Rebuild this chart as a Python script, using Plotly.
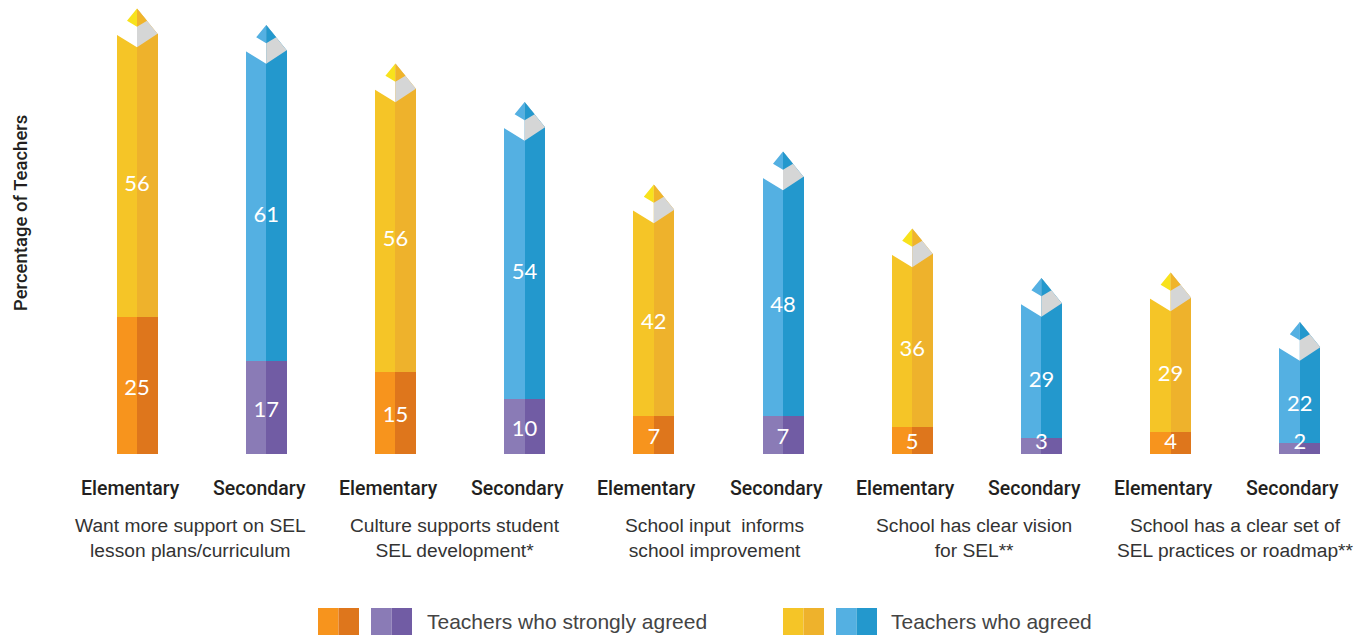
import plotly.graph_objects as go

# ---------------- data ----------------
groups = [
    "Want more support on SEL<br>lesson plans/curriculum",
    "Culture supports student<br>SEL development*",
    "School input  informs<br>school improvement",
    "School has clear vision<br>for SEL**",
    "School has a clear set of<br>SEL practices or roadmap**",
]
levels = ["Elementary", "Secondary"] * 5
strongly_agreed = [25, 17, 15, 10, 7, 7, 5, 3, 4, 2]
agreed = [56, 61, 56, 54, 42, 48, 36, 29, 29, 22]
legend_labels = ["Teachers who strongly agreed", "Teachers who agreed"]
y_title = "Percentage of Teachers"

# ---------------- style ----------------
W, H = 1356, 635
XU = 129.2          # px per x unit
YU = 5.5            # px per y unit
BASE_PX = 454       # baseline pixel row
X0_PX = 137         # first bar center pixel
GROUP_SHIFT = [-11, -5, -4, -3, 0]   # px nudges of the group captions

COL = {
    "Elementary": dict(sl="#f7941d", sr="#de761c", al="#f5c527", ar="#eeb22c",
                       tl="#f8e21c", tr="#f0b42a"),
    "Secondary": dict(sl="#8a7bb6", sr="#715ca4", al="#54b0e2", ar="#2398cd",
                      tl="#54b0e2", tr="#2398cd"),
}
GRAY = "#d5d6d6"

half_w = 20.5 / XU
pad = 1.5 / XU
tip_sx = 10.0 / XU
shoulder = 25.3 / YU
vdepth = 38.7 / YU
tip_side = 12.3 / YU
tip_bot = 18.3 / YU
label_dy = -4.0 / YU
label_floor = 15.0 / YU   # lowest label centre (before label_dy)

pos = list(range(len(levels)))
totals = [s + a for s, a in zip(strongly_agreed, agreed)]

def px_x(p):
    return p / W

def px_y(p):
    return 1 - p / H

fig = go.Figure()

sl = [COL[l]["sl"] for l in levels]
sr = [COL[l]["sr"] for l in levels]
al = [COL[l]["al"] for l in levels]
ar = [COL[l]["ar"] for l in levels]

for ys, base, cl, cr in [(strongly_agreed, [0] * len(pos), sl, sr),
                         (agreed, strongly_agreed, al, ar)]:
    fig.add_trace(go.Bar(x=pos, y=ys, base=base, width=half_w, offset=-half_w,
                         marker=dict(color=cl, line=dict(width=0)),
                         showlegend=False, hoverinfo="skip"))
    fig.add_trace(go.Bar(x=pos, y=ys, base=base, width=half_w, offset=0,
                         marker=dict(color=cr, line=dict(width=0)),
                         showlegend=False, hoverinfo="skip"))

# pencil tips
white_x, white_y, gray_x, gray_y = [], [], [], []
tips = {k: dict(lx=[], ly=[], rx=[], ry=[]) for k in COL}
for x, t, lv in zip(pos, totals, levels):
    L, R = x - half_w, x + half_w
    white_x += [L - pad, L - pad, x, x, L - pad, L - pad, None]
    white_y += [t - shoulder - 0.05, t - shoulder, t - vdepth, t + 1, t + 1,
                t - shoulder - 0.05, None]
    white_x += [x, R + pad, R + pad, R, x, None]
    white_y += [t + 1, t + 1, t - shoulder, t - shoulder, t, None]
    gray_x += [x, R, x, x, None]
    gray_y += [t - vdepth, t - shoulder, t, t - vdepth, None]
    d = tips[lv]
    d["lx"] += [x, x - tip_sx, x, x, None]
    d["ly"] += [t, t - tip_side, t - tip_bot, t, None]
    d["rx"] += [x, x + tip_sx, x, x, None]
    d["ry"] += [t, t - tip_side, t - tip_bot, t, None]

def poly(xs, ys, color):
    fig.add_trace(go.Scatter(x=xs, y=ys, mode="lines", fill="toself",
                             fillcolor=color, line=dict(width=0, color=color),
                             showlegend=False, hoverinfo="skip"))

poly(white_x, white_y, "#ffffff")
poly(gray_x, gray_y, GRAY)
for lv in COL:
    poly(tips[lv]["lx"], tips[lv]["ly"], COL[lv]["tl"])
    poly(tips[lv]["rx"], tips[lv]["ry"], COL[lv]["tr"])

# value labels
num_font = dict(family="Lato", size=22, color="#ffffff")
fig.add_trace(go.Scatter(
    x=pos, y=[max(s / 2, label_floor) + label_dy for s in strongly_agreed],
    mode="text",
    text=[str(v) for v in strongly_agreed], textposition="middle center",
    textfont=num_font, showlegend=False, hoverinfo="skip"))
fig.add_trace(go.Scatter(
    x=pos,
    y=[(s + t - vdepth) / 2 + label_dy for s, t in zip(strongly_agreed, totals)],
    mode="text", text=[str(v) for v in agreed], textposition="middle center",
    textfont=num_font, showlegend=False, hoverinfo="skip"))

annotations = []
for x, lv in zip(pos, levels):
    annotations.append(dict(x=x, y=px_y(488), xref="x", yref="paper", text=lv,
                            showarrow=False, xshift=-7, yanchor="middle",
                            font=dict(family="Roboto", size=19.5, weight=500,
                                      color="#231f20")))
for i, g in enumerate(groups):
    annotations.append(dict(x=(pos[2 * i] + pos[2 * i + 1]) / 2, y=px_y(538),
                            xref="x", yref="paper", text=g, showarrow=False,
                            xshift=GROUP_SHIFT[i], yanchor="middle",
                            align="center",
                            font=dict(family="Liberation Sans", size=19.2,
                                      color="#333333")))
annotations.append(dict(x=px_x(21), y=px_y(213), xref="paper", yref="paper",
                        xanchor="center", yanchor="middle",
                        text=y_title, textangle=-90, showarrow=False,
                        font=dict(family="Roboto", size=18.5, weight=500,
                                  color="#231f20")))

shapes = []
sq = [(318, 359, COL["Elementary"]["sl"], COL["Elementary"]["sr"]),
      (371, 412, COL["Secondary"]["sl"], COL["Secondary"]["sr"]),
      (783, 824, COL["Elementary"]["al"], COL["Elementary"]["ar"]),
      (836, 877, COL["Secondary"]["al"], COL["Secondary"]["ar"])]
for a, b, c1, c2 in sq:
    m = (a + b) / 2
    shapes.append(dict(type="rect", xref="paper", yref="paper", x0=px_x(a),
                       x1=px_x(m), y0=px_y(640), y1=px_y(608), fillcolor=c1,
                       line=dict(width=0)))
    shapes.append(dict(type="rect", xref="paper", yref="paper", x0=px_x(m),
                       x1=px_x(b), y0=px_y(640), y1=px_y(608), fillcolor=c2,
                       line=dict(width=0)))
for xp, txt in [(425, legend_labels[0]), (889, legend_labels[1])]:
    annotations.append(dict(x=px_x(xp), y=px_y(621), xref="paper",
                            yref="paper", text=txt, showarrow=False,
                            xanchor="left", yanchor="middle",
                            font=dict(family="Liberation Sans", size=21,
                                      color="#444444")))

hi = BASE_PX / YU
lo = hi - H / YU
xl = -X0_PX / XU
xr = xl + W / XU

fig.update_layout(
    width=W, height=H, margin=dict(l=0, r=0, t=0, b=0),
    paper_bgcolor="#ffffff", plot_bgcolor="#ffffff",
    barmode="overlay", bargap=0,
    xaxis=dict(range=[xl, xr], visible=False, fixedrange=True),
    yaxis=dict(range=[lo, hi], visible=False, fixedrange=True),
    annotations=annotations, shapes=shapes, showlegend=False,
)

fig.write_html("out.html",
               config={"displayModeBar": False, "staticPlot": True},
               post_script="document.body.style.margin='0';"
                           "document.body.style.overflow='hidden';")
